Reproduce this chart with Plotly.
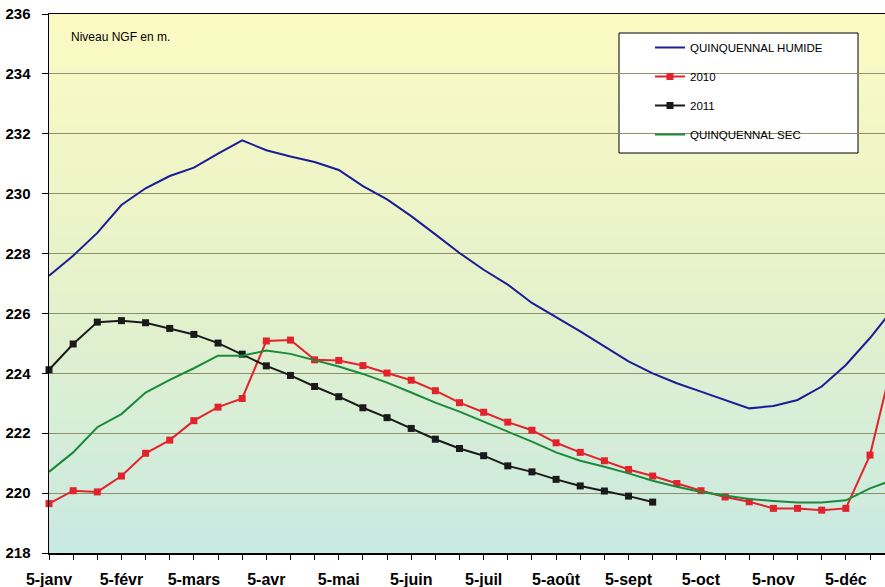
import plotly.graph_objects as go

# ---------------- data ----------------
months = ["janv", "févr", "mars", "avr", "mai", "juin",
          "juil", "août", "sept", "oct", "nov", "déc"]
categories = [f"{d}-{m}" for m in months for d in (5, 15, 25)]
tick_labels = [c if c.startswith("5-") else "" for c in categories]

quinq_humide = [227.26, 227.93, 228.69, 229.62, 230.18, 230.59, 230.87, 231.34, 231.78, 231.45,
                231.24, 231.06, 230.79, 230.25, 229.81, 229.25, 228.64, 228.02, 227.46,
                226.96, 226.35, 225.88, 225.40, 224.90, 224.40, 224.00, 223.67,
                223.39, 223.11, 222.83, 222.91, 223.11, 223.56, 224.28, 225.18, 226.20]
y2010 = [219.65, 220.08, 220.04, 220.57, 221.33, 221.77, 222.42, 222.87, 223.16, 225.08,
         225.11, 224.45, 224.43, 224.26, 224.01, 223.77, 223.42, 223.02, 222.70,
         222.37, 222.10, 221.68, 221.36, 221.08, 220.79, 220.57, 220.32,
         220.08, 219.87, 219.71, 219.49, 219.49, 219.43, 219.49, 221.27, 224.60]
y2011 = [224.12, 224.98, 225.71, 225.76, 225.69, 225.50, 225.30, 225.01, 224.64, 224.25,
         223.93, 223.56, 223.22, 222.85, 222.52, 222.16, 221.80, 221.49, 221.25,
         220.91, 220.71, 220.46, 220.24, 220.07, 219.90, 219.70]
quinq_sec = [220.71, 221.36, 222.20, 222.64, 223.36, 223.78, 224.17, 224.59, 224.59, 224.76,
             224.65, 224.43, 224.23, 223.98, 223.69, 223.36, 223.02, 222.72, 222.39,
             222.05, 221.72, 221.36, 221.08, 220.88, 220.66, 220.41, 220.21,
             220.04, 219.93, 219.80, 219.74, 219.69, 219.69, 219.76, 220.16, 220.45]

# ---------------- geometry helpers ----------------
W, H = 885, 587
L, R, T, B = 49, 0, 14, 34
PW, PH = W - L - R, H - T - B

def px_x(x):
    return (x - L) / PW

def px_y(y):
    return (H - B - y) / PH

fig = go.Figure()

fig.add_trace(go.Scatter(x=categories, y=quinq_humide, name="QUINQUENNAL HUMIDE",
                         mode="lines", line=dict(color="#1c1c96", width=2),
                         legendgroup="a"))
fig.add_trace(go.Scatter(x=categories, y=y2010, name="2010",
                         mode="lines+markers", line=dict(color="#e3232b", width=2),
                         marker=dict(symbol="square", size=7, color="#e3232b"),
                         cliponaxis=False, legendgroup="b"))
fig.add_trace(go.Scatter(x=categories[:len(y2011)], y=y2011, name="2011",
                         mode="lines+markers", line=dict(color="#1a1a1a", width=2),
                         marker=dict(symbol="square", size=7, color="#1a1a1a"),
                         cliponaxis=False, legendgroup="c"))
fig.add_trace(go.Scatter(x=categories, y=quinq_sec, name="QUINQUENNAL SEC",
                         mode="lines", line=dict(color="#1b8a3a", width=2),
                         legendgroup="d"))

# background gradient (yellow top -> pale cyan bottom)
stops = [(0.0, (200, 233, 226)), (0.5, (230, 242, 202)), (1.0, (252, 250, 195))]

def col(t):
    for (t0, c0), (t1, c1) in zip(stops[:-1], stops[1:]):
        if t0 <= t <= t1:
            f = (t - t0) / (t1 - t0)
            return "rgb(%d,%d,%d)" % tuple(round(a + (b - a) * f) for a, b in zip(c0, c1))
    return "rgb(%d,%d,%d)" % stops[-1][1]

shapes = []
N = 60
for k in range(N):
    shapes.append(dict(type="rect", xref="paper", yref="paper", x0=0, x1=1,
                       y0=k / N, y1=(k + 1) / N + 0.002, line=dict(width=0),
                       fillcolor=col((k + 0.5) / N), layer="below"))
# legend box
shapes.append(dict(type="rect", xref="paper", yref="paper",
                   x0=px_x(619), x1=px_x(858), y0=px_y(153), y1=px_y(33),
                   line=dict(color="black", width=1), fillcolor="white", layer="between"))

fig.update_layout(
    width=W, height=H,
    margin=dict(l=L, r=R, t=T, b=B, autoexpand=False),
    paper_bgcolor="white", plot_bgcolor="white",
    shapes=shapes,
    showlegend=True,
    hovermode=False,
    legend=dict(x=px_x(650), y=px_y(33), xanchor="left", yanchor="top",
                bgcolor="rgba(0,0,0,0)", borderwidth=0,
                font=dict(family="Liberation Sans, Arial, sans-serif", size=11.5, color="black"),
                traceorder="grouped", tracegroupgap=10, itemwidth=30),
    annotations=[dict(text="Niveau NGF en m.", xref="paper", yref="paper",
                      x=px_x(69), y=px_y(37), xanchor="left", yanchor="middle",
                      showarrow=False,
                      font=dict(family="Liberation Sans, Arial, sans-serif", size=12, color="black"))],
    xaxis=dict(type="category", categoryorder="array", categoryarray=categories,
               range=[0, (W - L) / ((870 - 49) / 34)], automargin=False,
               tickmode="array", tickvals=categories, ticktext=tick_labels,
               ticks="outside", ticklen=5, tickcolor="black", tickwidth=1,
               showline=True, linecolor="black", linewidth=1.5, mirror=True,
               showgrid=False, zeroline=False, ticklabelstandoff=6,
               tickfont=dict(family="Liberation Sans, Arial, sans-serif", size=16,
                             color="black", weight="bold")),
    yaxis=dict(range=[218, 236], dtick=2, tick0=218, automargin=False,
               ticks="outside", ticklen=6, tickcolor="black",
               showline=True, linecolor="black", linewidth=1.5,
               showgrid=True, gridcolor="#8f8f6a", gridwidth=1, zeroline=False,
               ticklabelstandoff=8,
               tickfont=dict(family="Liberation Sans, Arial, sans-serif", size=15,
                             color="black", weight="bold")),
)

fig.write_html("out.html", config={"displayModeBar": False, "staticPlot": True},
               post_script="document.body.style.margin='0';document.body.style.overflow='hidden';")
